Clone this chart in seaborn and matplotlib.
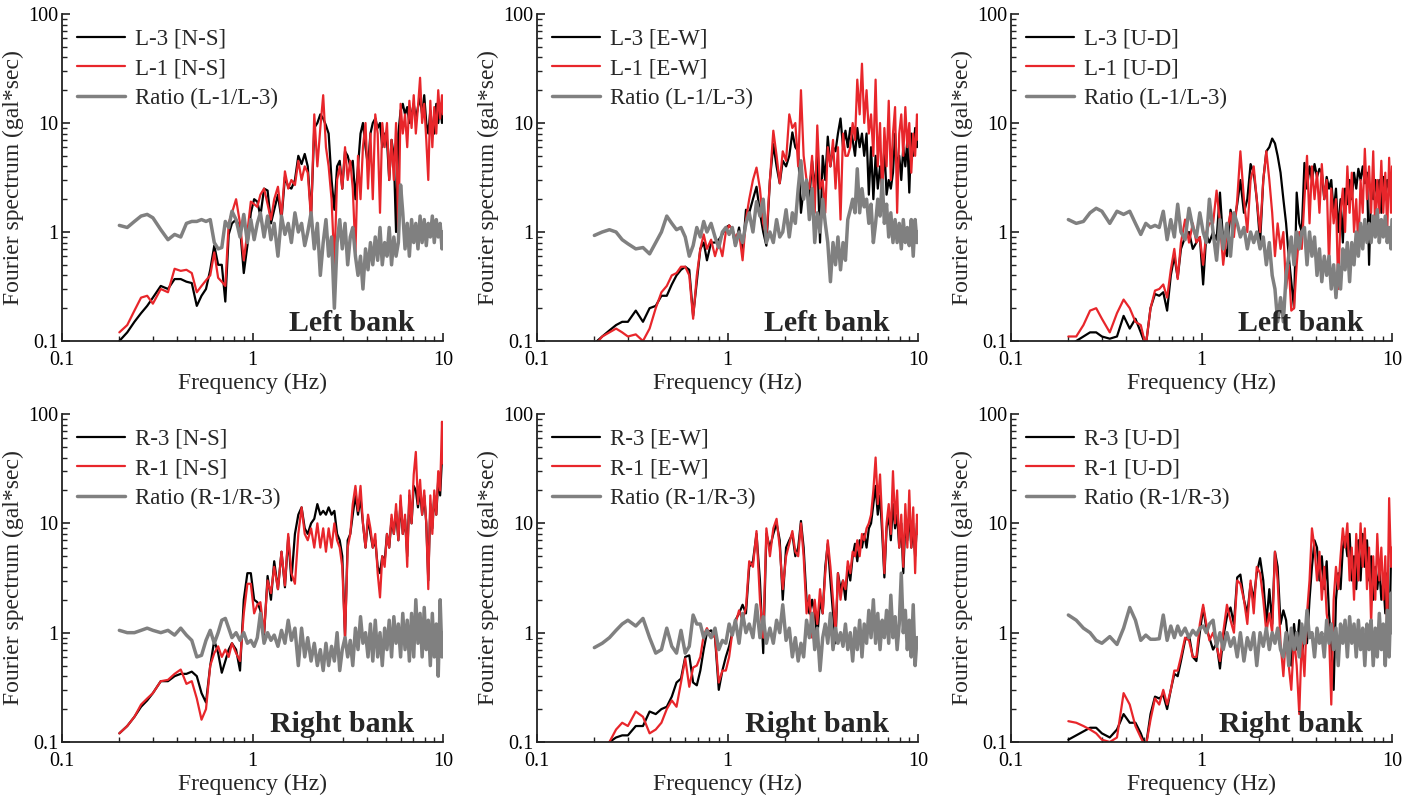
import matplotlib
matplotlib.use("Agg")
import matplotlib.pyplot as plt
import seaborn as sns
import pandas as pd
from matplotlib.ticker import FixedLocator, FixedFormatter, LogLocator, NullFormatter

# ---------------- data ----------------
FREQ = [0.20, 0.22, 0.24, 0.26, 0.28, 0.30, 0.33, 0.36, 0.39, 0.42,
        0.45, 0.48, 0.51, 0.54, 0.57, 0.60, 0.63, 0.66, 0.69, 0.72,
        0.75, 0.78, 0.82, 0.86, 0.90, 0.94, 0.98, 1.02, 1.06, 1.10,
        1.15, 1.20, 1.25, 1.30, 1.36, 1.42, 1.48, 1.54, 1.60, 1.67,
        1.74, 1.81, 1.88, 1.95, 2.03, 2.11, 2.19, 2.27, 2.35, 2.43,
        2.51, 2.60, 2.69, 2.78, 2.87, 2.96, 3.06, 3.16, 3.26, 3.36,
        3.47, 3.58, 3.69, 3.80, 3.92, 4.04, 4.16, 4.28, 4.41, 4.54,
        4.67, 4.80, 4.94, 5.08, 5.22, 5.37, 5.52, 5.67, 5.83, 5.99,
        6.15, 6.32, 6.49, 6.66, 6.84, 7.02, 7.20, 7.39, 7.58, 7.77,
        7.97, 8.17, 8.37, 8.58, 8.79, 9.00, 9.22, 9.44, 9.66, 9.88,
        10.0]

# Left bank, N-S
L3_NS = [0.10, 0.12, 0.15, 0.18, 0.21, 0.25, 0.32, 0.30, 0.37, 0.37,
         0.35, 0.34, 0.21, 0.26, 0.30, 0.45, 0.75, 0.50, 0.50, 0.23,
         0.95, 1.20, 1.30, 1.10, 0.42, 0.75, 1.50, 2.00, 1.90, 1.40,
         2.50, 2.40, 1.20, 1.60, 2.20, 1.30, 3.20, 2.60, 2.50, 3.00,
         5.00, 4.20, 5.20, 4.00, 1.40, 9.00, 10.0, 12.0, 11.0, 9.50,
         8.00, 3.00, 1.60, 4.00, 4.50, 2.50, 5.50, 5.00, 4.00, 4.50,
         2.00, 4.00, 8.00, 10.0, 6.00, 4.00, 8.00, 10.0, 11.0, 9.00,
         10.0, 6.00, 8.00, 7.00, 3.00, 7.00, 5.00, 1.00, 8.00, 13.0,
         15.0, 12.0, 14.0, 10.0, 12.0, 15.0, 11.0, 14.0, 17.0, 12.0,
         18.0, 10.0, 8.00, 13.0, 9.00, 8.00, 15.0, 10.0, 15.0, 10.0,
         17.0]
L1_NS = [0.12, 0.14, 0.19, 0.25, 0.26, 0.22, 0.30, 0.28, 0.46, 0.44,
         0.45, 0.42, 0.28, 0.32, 0.36, 0.40, 0.65, 0.38, 0.35, 0.32,
         1.20, 1.50, 2.00, 1.20, 0.55, 1.00, 1.90, 1.80, 1.70, 2.20,
         2.50, 1.80, 1.30, 2.00, 2.60, 1.40, 3.60, 2.50, 3.00, 2.70,
         4.50, 3.00, 4.00, 3.50, 1.30, 12.0, 4.00, 9.00, 18.0, 6.00,
         4.00, 2.00, 0.50, 3.00, 4.00, 2.50, 6.00, 3.00, 4.50, 2.50,
         0.65, 5.00, 2.00, 6.00, 10.0, 2.50, 8.00, 2.00, 12.0, 8.00,
         1.50, 10.0, 6.00, 10.0, 3.00, 7.00, 3.00, 10.0, 0.90, 15.0,
         8.00, 12.0, 6.00, 16.0, 9.00, 18.0, 8.00, 14.0, 26.0, 10.0,
         15.0, 7.00, 3.00, 16.0, 6.00, 14.0, 8.00, 20.0, 11.0, 18.0,
         12.0]
RATIO_L_NS = [1.15, 1.10, 1.25, 1.40, 1.45, 1.35, 1.05, 0.85, 0.95, 0.90,
              1.20, 1.25, 1.25, 1.30, 1.25, 1.30, 0.80, 0.70, 0.72, 1.25,
              1.10, 1.55, 1.30, 0.90, 1.45, 0.80, 1.30, 0.85, 1.20, 1.50,
              0.90, 1.40, 0.85, 1.20, 0.60, 1.40, 0.95, 1.20, 0.80, 1.50,
              1.00, 1.20, 0.75, 1.00, 1.50, 0.70, 1.20, 0.40, 0.80, 1.30,
              0.60, 0.90, 0.20, 0.80, 1.30, 0.70, 1.20, 0.50, 0.90, 1.10,
              0.60, 0.40, 0.60, 0.30, 0.70, 0.45, 0.80, 0.50, 0.90, 0.55,
              1.10, 0.50, 0.80, 0.60, 1.10, 0.50, 0.90, 0.60, 0.80, 2.70,
              1.50, 0.70, 1.20, 0.60, 1.30, 0.80, 1.20, 0.70, 1.40, 0.80,
              1.30, 0.75, 1.20, 0.90, 1.40, 0.80, 1.30, 0.90, 1.20, 0.70,
              1.00]

# Left bank, E-W
L3_EW = [0.095, 0.11, 0.125, 0.14, 0.15, 0.15, 0.19, 0.15, 0.20, 0.21,
         0.26, 0.26, 0.33, 0.40, 0.45, 0.48, 0.45, 0.17, 0.35, 0.70,
         0.80, 0.55, 0.80, 0.80, 0.85, 0.95, 1.10, 1.15, 1.05, 0.75,
         1.10, 0.65, 1.60, 1.50, 2.00, 2.60, 1.50, 1.00, 0.75, 3.00,
         6.40, 4.00, 2.80, 4.50, 4.00, 5.00, 8.20, 6.00, 5.50, 1.50,
         2.50, 3.00, 2.00, 4.50, 2.50, 5.00, 0.80, 5.00, 3.00, 7.50,
         4.00, 6.00, 5.50, 8.00, 11.0, 6.00, 8.50, 6.00, 9.00, 7.00,
         5.00, 9.00, 6.00, 8.00, 5.00, 8.00, 2.20, 6.00, 2.00, 5.00,
         2.50, 4.00, 2.50, 6.00, 2.20, 3.00, 2.50, 3.50, 8.00, 4.00,
         5.00, 3.00, 6.00, 4.00, 7.00, 2.30, 8.00, 5.00, 9.00, 6.00,
         10.0]
L1_EW = [0.09, 0.11, 0.12, 0.13, 0.12, 0.11, 0.115, 0.10, 0.13, 0.20,
         0.28, 0.32, 0.40, 0.42, 0.48, 0.48, 0.40, 0.16, 0.40, 0.70,
         0.95, 0.70, 0.85, 0.60, 0.80, 0.60, 1.00, 1.15, 1.05, 0.90,
         1.00, 0.55, 1.30, 2.00, 3.00, 3.90, 2.50, 1.20, 0.90, 3.00,
         8.50, 5.00, 2.80, 5.50, 4.50, 12.0, 9.00, 10.0, 4.00, 20.0,
         5.00, 3.00, 2.50, 5.00, 1.50, 9.50, 2.50, 3.00, 1.50, 6.00,
         4.00, 7.00, 2.50, 6.00, 1.30, 8.00, 5.00, 5.00, 6.00, 10.0,
         7.00, 25.0, 12.0, 35.0, 10.0, 20.0, 8.00, 12.0, 5.00, 25.0,
         4.00, 10.0, 2.00, 9.00, 4.00, 16.0, 3.00, 8.00, 14.0, 1.50,
         8.00, 12.0, 5.00, 14.0, 6.00, 10.0, 3.50, 8.00, 5.00, 12.0,
         7.00]
RATIO_L_EW = [0.93, 1.00, 1.05, 1.00, 0.85, 0.78, 0.70, 0.72, 0.63, 0.80,
              1.00, 1.40, 1.20, 1.05, 1.10, 0.90, 0.60, 0.75, 1.10, 0.90,
              1.25, 1.00, 1.20, 0.90, 0.72, 1.00, 1.10, 0.95, 1.10, 0.75,
              1.00, 0.80, 1.20, 1.50, 1.00, 1.90, 1.40, 2.00, 0.80, 1.00,
              0.80, 1.30, 0.90, 1.00, 1.60, 0.90, 1.50, 1.20, 2.50, 4.50,
              2.00, 3.00, 1.30, 2.50, 0.80, 1.50, 1.00, 2.00, 1.20, 0.80,
              0.35, 0.80, 0.50, 0.90, 0.45, 0.80, 0.55, 1.30, 1.60, 2.00,
              1.50, 3.80, 1.50, 2.50, 1.70, 2.00, 1.20, 1.80, 0.80, 1.20,
              2.00, 1.40, 3.00, 1.20, 1.80, 0.90, 1.50, 0.80, 1.30, 0.80,
              1.20, 0.70, 1.30, 0.80, 1.10, 0.75, 1.30, 0.60, 1.30, 0.80,
              1.00]

# Left bank, U-D
L3_UD = [0.09, 0.10, 0.11, 0.12, 0.12, 0.11, 0.105, 0.11, 0.17, 0.13,
         0.16, 0.12, 0.09, 0.20, 0.27, 0.26, 0.28, 0.19, 0.40, 0.60,
         0.38, 0.70, 0.90, 1.00, 0.70, 0.80, 0.90, 0.33, 0.95, 0.80,
         1.00, 0.85, 2.30, 0.80, 0.60, 1.60, 1.20, 1.80, 3.00, 1.50,
         2.00, 4.20, 3.50, 2.00, 0.80, 3.00, 5.50, 6.00, 7.20, 6.50,
         5.00, 3.50, 2.00, 1.20, 0.60, 0.35, 0.20, 2.30, 1.20, 1.00,
         4.30, 2.50, 4.00, 3.00, 4.20, 3.20, 3.80, 3.50, 2.00, 3.20,
         2.50, 3.00, 1.50, 2.50, 1.00, 2.00, 0.80, 2.50, 1.80, 3.00,
         2.00, 3.50, 2.50, 3.80, 3.00, 4.00, 2.80, 3.50, 0.50, 2.50,
         2.00, 3.00, 2.00, 3.00, 1.50, 3.20, 2.00, 3.00, 2.50, 3.20,
         3.50]
L1_UD = [0.11, 0.11, 0.14, 0.19, 0.20, 0.16, 0.12, 0.18, 0.24, 0.20,
         0.15, 0.14, 0.09, 0.20, 0.29, 0.30, 0.33, 0.25, 0.45, 0.70,
         0.37, 0.80, 1.30, 0.80, 1.20, 0.80, 0.90, 0.50, 1.00, 1.20,
         1.20, 2.40, 1.20, 0.50, 1.00, 1.50, 0.90, 2.00, 5.50, 2.00,
         1.00, 3.00, 4.00, 2.00, 1.00, 3.00, 5.50, 3.00, 1.50, 0.60,
         1.20, 0.70, 1.00, 0.30, 0.50, 0.19, 0.20, 0.50, 1.00, 0.70,
         2.00, 5.00, 1.20, 4.00, 2.00, 3.50, 1.50, 4.20, 2.00, 3.00,
         0.50, 2.50, 1.20, 2.00, 0.30, 1.50, 2.50, 1.00, 4.00, 1.50,
         3.50, 1.00, 2.00, 0.70, 3.00, 1.50, 5.80, 2.00, 4.00, 1.50,
         5.50, 1.00, 3.00, 1.50, 4.50, 1.50, 3.50, 1.00, 4.80, 1.50,
         4.00]
RATIO_L_UD = [1.30, 1.20, 1.25, 1.50, 1.65, 1.55, 1.20, 1.55, 1.45, 1.55,
              1.20, 0.95, 1.20, 1.10, 1.15, 1.10, 1.55, 0.85, 1.30, 0.90,
              1.80, 1.00, 0.85, 1.65, 1.10, 0.90, 1.50, 1.00, 0.80, 2.00,
              1.00, 0.55, 1.30, 0.70, 1.20, 0.60, 1.50, 1.20, 0.90, 1.10,
              0.70, 1.00, 0.80, 1.00, 0.70, 0.90, 0.50, 0.80, 0.40, 0.30,
              0.15, 0.25, 0.15, 0.40, 0.60, 0.90, 0.50, 1.00, 0.70, 1.00,
              1.10, 0.50, 1.00, 0.60, 0.90, 0.40, 0.70, 0.35, 0.60, 0.40,
              0.60, 0.30, 0.50, 0.25, 0.50, 0.30, 0.70, 0.45, 0.80, 0.35,
              0.80, 0.50, 1.00, 0.60, 1.20, 0.70, 1.30, 0.80, 1.20, 0.80,
              1.40, 0.90, 1.60, 0.80, 1.30, 0.90, 1.40, 0.80, 1.10, 0.70,
              1.30]

# Right bank, N-S
R3_NS = [0.12, 0.14, 0.17, 0.21, 0.24, 0.28, 0.36, 0.36, 0.40, 0.42,
         0.42, 0.44, 0.40, 0.28, 0.23, 0.50, 0.85, 0.65, 0.43, 0.55,
         0.70, 0.80, 0.70, 0.45, 2.00, 3.50, 3.50, 2.00, 1.90, 1.60,
         0.95, 3.30, 2.00, 4.50, 2.50, 5.50, 2.60, 7.50, 3.00, 8.00,
         12.0, 14.0, 9.00, 8.00, 10.0, 11.0, 15.0, 12.0, 13.0, 12.0,
         14.0, 12.0, 13.0, 8.00, 7.00, 5.00, 0.90, 7.00, 8.00, 12.0,
         18.0, 12.0, 17.0, 10.0, 6.00, 11.0, 8.00, 6.00, 7.00, 4.00,
         3.50, 5.00, 4.50, 8.00, 6.00, 11.0, 8.00, 13.0, 7.00, 16.0,
         8.00, 11.0, 5.00, 18.0, 10.0, 22.0, 20.0, 14.0, 20.0, 12.0,
         18.0, 10.0, 3.00, 15.0, 9.00, 18.0, 12.0, 25.0, 18.0, 40.0,
         35.0]
R1_NS = [0.12, 0.14, 0.17, 0.22, 0.25, 0.28, 0.36, 0.37, 0.42, 0.46,
         0.34, 0.36, 0.25, 0.16, 0.20, 0.50, 0.65, 0.75, 0.60, 0.70,
         0.60, 0.80, 0.65, 0.55, 1.50, 2.80, 2.80, 1.50, 1.80, 1.90,
         1.00, 3.00, 2.30, 4.00, 2.50, 5.50, 2.70, 8.00, 3.50, 2.80,
         8.00, 14.0, 8.00, 7.00, 9.00, 6.00, 10.0, 6.00, 9.00, 5.50,
         9.00, 6.00, 10.0, 7.00, 6.00, 4.00, 0.90, 6.00, 8.00, 15.0,
         22.0, 13.0, 22.0, 10.0, 6.00, 12.0, 9.00, 6.00, 8.00, 3.50,
         2.10, 5.00, 4.00, 8.00, 6.00, 12.0, 8.00, 15.0, 7.00, 18.0,
         8.00, 12.0, 4.00, 20.0, 10.0, 28.0, 45.0, 15.0, 25.0, 12.0,
         20.0, 10.0, 2.50, 18.0, 8.00, 20.0, 12.0, 30.0, 20.0, 85.0,
         35.0]
RATIO_R_NS = [1.05, 1.00, 1.00, 1.05, 1.10, 1.05, 1.00, 1.05, 0.95, 1.10,
              0.95, 0.85, 0.60, 0.62, 0.85, 1.05, 0.80, 1.00, 1.30, 1.35,
              1.10, 0.90, 1.00, 0.85, 1.00, 0.80, 0.85, 0.75, 0.90, 1.50,
              0.80, 1.00, 0.85, 0.95, 0.75, 1.05, 0.80, 1.30, 0.85, 1.10,
              0.50, 1.10, 0.60, 0.90, 0.55, 0.80, 0.50, 0.70, 0.45, 0.80,
              0.50, 0.75, 0.55, 1.00, 0.45, 0.70, 0.90, 0.60, 0.85, 0.50,
              1.10, 0.70, 1.40, 0.80, 1.00, 0.60, 1.20, 0.55, 1.30, 0.60,
              1.00, 0.50, 1.10, 0.70, 1.30, 0.60, 1.40, 0.80, 1.20, 0.60,
              1.50, 0.70, 1.30, 0.55, 1.50, 0.60, 2.00, 0.80, 1.50, 0.60,
              1.70, 0.70, 1.30, 0.50, 1.50, 0.60, 1.20, 0.40, 2.00, 0.60,
              1.00]

# Right bank, E-W
R3_EW = [0.07, 0.085, 0.10, 0.11, 0.115, 0.115, 0.14, 0.14, 0.19, 0.18,
         0.20, 0.21, 0.26, 0.35, 0.38, 0.60, 0.62, 0.35, 0.33, 0.45,
         0.70, 1.00, 1.05, 0.90, 0.30, 0.45, 0.60, 0.75, 1.00, 1.30,
         1.50, 1.80, 1.50, 4.00, 4.50, 8.00, 3.00, 0.65, 8.00, 6.00,
         8.00, 10.0, 7.00, 2.00, 6.00, 7.00, 8.00, 5.00, 6.00, 10.5,
         6.00, 2.00, 1.50, 2.00, 1.50, 0.90, 2.00, 1.50, 4.00, 6.50,
         3.00, 1.50, 0.80, 3.50, 2.50, 3.00, 2.00, 4.00, 3.00, 5.00,
         6.50, 4.50, 7.00, 6.00, 8.00, 6.00, 9.00, 10.0, 15.0, 22.0,
         12.0, 18.0, 8.00, 3.20, 9.00, 12.0, 7.00, 15.0, 9.00, 12.0,
         6.00, 10.0, 3.50, 10.0, 7.00, 12.0, 6.00, 9.00, 5.00, 10.0,
         9.00]
R1_EW = [0.07, 0.085, 0.10, 0.13, 0.15, 0.14, 0.19, 0.17, 0.12, 0.13,
         0.15, 0.20, 0.24, 0.21, 0.35, 0.58, 0.32, 0.48, 0.50, 0.60,
         0.95, 1.10, 0.90, 0.95, 0.35, 0.45, 0.45, 0.60, 1.00, 1.20,
         1.60, 1.30, 1.70, 4.50, 4.00, 8.50, 2.00, 0.90, 9.00, 5.00,
         9.00, 11.0, 6.00, 2.50, 5.00, 6.50, 8.50, 5.50, 5.00, 10.0,
         5.00, 1.50, 2.20, 0.90, 2.00, 1.20, 2.50, 1.50, 3.50, 7.00,
         4.00, 2.00, 1.00, 3.50, 2.00, 3.00, 2.50, 4.50, 3.50, 5.50,
         5.00, 7.00, 5.00, 8.00, 7.00, 9.00, 10.0, 12.0, 20.0, 40.0,
         15.0, 28.0, 10.0, 3.50, 10.0, 15.0, 8.00, 30.0, 10.0, 20.0,
         6.00, 12.0, 4.00, 15.0, 6.00, 20.0, 6.00, 14.0, 3.50, 12.0,
         8.00]
RATIO_R_EW = [0.73, 0.80, 0.90, 1.05, 1.20, 1.30, 1.15, 1.35, 0.90, 0.65,
              0.70, 1.10, 0.75, 0.65, 1.05, 0.65, 0.75, 1.45, 1.20, 1.20,
              0.90, 1.05, 0.90, 1.10, 0.70, 0.85, 0.80, 1.20, 0.95, 1.30,
              0.80, 1.50, 1.00, 1.20, 0.90, 1.80, 0.90, 1.40, 0.80, 1.10,
              0.80, 1.30, 1.00, 1.80, 0.85, 1.10, 0.60, 0.90, 0.55, 0.80,
              0.60, 1.30, 0.90, 1.50, 0.70, 1.10, 0.45, 0.90, 1.20, 0.80,
              1.50, 0.70, 1.10, 0.80, 1.00, 0.75, 1.20, 0.70, 1.00, 0.55,
              1.10, 0.70, 1.30, 0.60, 1.20, 0.80, 1.60, 0.90, 2.00, 0.80,
              1.50, 0.70, 1.30, 0.90, 1.60, 0.80, 2.20, 0.90, 1.40, 0.70,
              1.20, 3.50, 1.00, 1.60, 0.70, 1.30, 0.60, 1.80, 0.50, 0.90,
              0.90]

# Right bank, U-D
R3_UD = [0.105, 0.115, 0.125, 0.135, 0.135, 0.12, 0.11, 0.13, 0.18, 0.15,
         0.15, 0.12, 0.09, 0.18, 0.26, 0.25, 0.27, 0.20, 0.30, 0.42,
         0.40, 0.55, 0.85, 0.95, 0.60, 0.55, 1.00, 1.70, 1.10, 0.90,
         0.70, 0.80, 0.47, 0.90, 1.40, 1.70, 1.20, 3.20, 3.40, 2.00,
         1.50, 2.80, 2.00, 3.50, 4.80, 3.00, 1.20, 2.50, 1.20, 5.50,
         4.00, 1.20, 1.60, 1.30, 0.70, 0.50, 1.20, 0.70, 1.30, 0.60,
         1.00, 0.80, 2.00, 4.00, 7.00, 6.00, 3.00, 5.00, 2.50, 4.50,
         1.50, 0.80, 0.30, 2.00, 3.50, 2.50, 6.00, 7.50, 5.00, 8.00,
         3.00, 5.00, 2.50, 7.00, 3.00, 8.00, 4.00, 7.00, 3.00, 5.00,
         2.00, 4.00, 2.50, 4.00, 2.00, 3.00, 1.50, 3.50, 0.60, 5.00,
         5.00]
R1_UD = [0.155, 0.15, 0.14, 0.13, 0.12, 0.105, 0.10, 0.11, 0.28, 0.22,
         0.14, 0.11, 0.09, 0.16, 0.25, 0.22, 0.30, 0.22, 0.30, 0.45,
         0.45, 0.60, 0.90, 0.85, 0.60, 0.60, 1.20, 1.80, 1.20, 0.85,
         1.00, 0.75, 0.55, 1.00, 1.80, 1.30, 1.00, 3.00, 2.80, 2.00,
         1.20, 3.00, 1.50, 4.00, 3.50, 2.00, 1.00, 1.50, 1.00, 5.50,
         3.00, 0.80, 0.40, 1.00, 0.50, 0.30, 0.90, 0.50, 0.18, 0.90,
         0.40, 1.50, 3.00, 9.00, 6.00, 3.00, 5.50, 2.00, 4.00, 1.50,
         1.00, 0.22, 2.00, 4.00, 2.50, 5.00, 9.00, 6.00, 10.0, 3.00,
         6.00, 2.00, 8.00, 3.00, 10.0, 4.00, 9.00, 2.50, 6.00, 1.20,
         5.00, 2.00, 8.00, 3.00, 6.00, 2.00, 5.00, 1.00, 17.0, 4.00,
         6.00]
RATIO_R_UD = [1.45, 1.30, 1.10, 1.00, 0.85, 0.80, 0.92, 0.78, 1.10, 1.70,
              1.30, 0.85, 0.95, 0.87, 0.87, 0.88, 1.45, 0.85, 1.15, 0.90,
              1.15, 0.95, 1.10, 0.90, 1.05, 0.95, 1.10, 1.15, 1.00, 1.20,
              1.30, 0.75, 1.00, 0.70, 1.00, 0.75, 0.90, 0.60, 1.00, 0.55,
              0.90, 0.70, 1.00, 0.50, 1.00, 0.75, 1.10, 0.70, 1.00, 0.80,
              1.10, 0.70, 0.60, 1.00, 0.50, 1.10, 0.70, 1.00, 0.60, 1.20,
              0.80, 1.60, 0.90, 1.00, 0.60, 1.10, 0.80, 1.00, 0.60, 1.30,
              0.80, 1.20, 0.70, 1.10, 0.50, 1.20, 0.80, 1.30, 0.60, 1.40,
              0.80, 1.20, 0.60, 1.30, 0.70, 1.10, 0.50, 1.20, 0.70, 1.30,
              0.50, 1.10, 0.60, 1.50, 0.70, 1.20, 0.50, 1.60, 0.60, 2.30,
              1.00]

X_TICKS = [0.1, 1, 10]
X_TICK_LABELS = ["0.1", "1", "10"]
Y_TICKS = [0.1, 1, 10, 100]
Y_TICK_LABELS = ["0.1", "1", "10", "100"]

PANELS = [
    # (row, col, black, red, gray, labels, bank)
    (0, 0, L3_NS, L1_NS, RATIO_L_NS, ["L-3 [N-S]", "L-1 [N-S]", "Ratio (L-1/L-3)"], "Left bank"),
    (0, 1, L3_EW, L1_EW, RATIO_L_EW, ["L-3 [E-W]", "L-1 [E-W]", "Ratio (L-1/L-3)"], "Left bank"),
    (0, 2, L3_UD, L1_UD, RATIO_L_UD, ["L-3 [U-D]", "L-1 [U-D]", "Ratio (L-1/L-3)"], "Left bank"),
    (1, 0, R3_NS, R1_NS, RATIO_R_NS, ["R-3 [N-S]", "R-1 [N-S]", "Ratio (R-1/R-3)"], "Right bank"),
    (1, 1, R3_EW, R1_EW, RATIO_R_EW, ["R-3 [E-W]", "R-1 [E-W]", "Ratio (R-1/R-3)"], "Right bank"),
    (1, 2, R3_UD, R1_UD, RATIO_R_UD, ["R-3 [U-D]", "R-1 [U-D]", "Ratio (R-1/R-3)"], "Right bank"),
]

# ---------------- style ----------------
sns.set_style("ticks")
plt.rcParams["font.family"] = ["Liberation Serif", "DejaVu Serif"]

W, H = 1418, 800
fig = plt.figure(figsize=(W / 100, H / 100), dpi=100)

col_left_px = [62, 537, 1011]
axw_px = 381
row_top_px = [14, 414]
axh_px = [327, 328]

colors = ["#000000", "#e8262b", "#808080"]
widths = [1.6, 1.6, 2.5]

for row, col, blk, red, gry, labels, bank in PANELS:
    left = col_left_px[col] / W
    bottom = 1 - (row_top_px[row] + axh_px[row]) / H
    ax = fig.add_axes([left, bottom, axw_px / W, axh_px[row] / H])
    ax.set_xscale("log")
    ax.set_yscale("log")

    df = pd.DataFrame({"freq": FREQ, "a": blk, "b": red, "c": gry})
    for key, color, lw, lab in zip(["a", "b", "c"], colors, widths, labels):
        sns.lineplot(data=df, x="freq", y=key, ax=ax, color=color,
                     linewidth=lw, label=lab, estimator=None, sort=False)

    ax.set_xlim(0.1, 10)
    ax.set_ylim(0.1, 100)
    ax.xaxis.set_major_locator(FixedLocator(X_TICKS))
    ax.xaxis.set_major_formatter(FixedFormatter(X_TICK_LABELS))
    ax.yaxis.set_major_locator(FixedLocator(Y_TICKS))
    ax.yaxis.set_major_formatter(FixedFormatter(Y_TICK_LABELS))
    ax.xaxis.set_minor_locator(LogLocator(base=10, subs=range(2, 10)))
    ax.yaxis.set_minor_locator(LogLocator(base=10, subs=range(2, 10)))
    ax.xaxis.set_minor_formatter(NullFormatter())
    ax.yaxis.set_minor_formatter(NullFormatter())

    sns.despine(ax=ax)
    for s in ["left", "bottom"]:
        ax.spines[s].set_linewidth(1.3)
        ax.spines[s].set_color("#222222")
    ax.tick_params(which="both", direction="in", top=False, right=False,
                   colors="#222222", labelcolor="black")
    ax.tick_params(which="major", length=6, width=1.2, labelsize=14.5)
    ax.tick_params(which="minor", length=3.5, width=1.0)
    ax.tick_params(axis="x", which="major", pad=7)
    ax.tick_params(axis="y", which="major", pad=2.5)

    ax.set_xlabel("Frequency (Hz)", fontsize=17, labelpad=2)
    ax.set_ylabel("Fourier spectrum (gal*sec)", fontsize=17, labelpad=3)

    ax.legend(loc="upper left", frameon=False, fontsize=16.5,
              handlelength=2.1, handletextpad=0.45, labelspacing=0.36,
              borderaxespad=0.25, borderpad=0.4)

    ax.text(0.925, 0.03, bank, transform=ax.transAxes, ha="right",
            va="baseline", fontsize=21.5, fontweight="bold")

fig.savefig("out.png", dpi=100)
